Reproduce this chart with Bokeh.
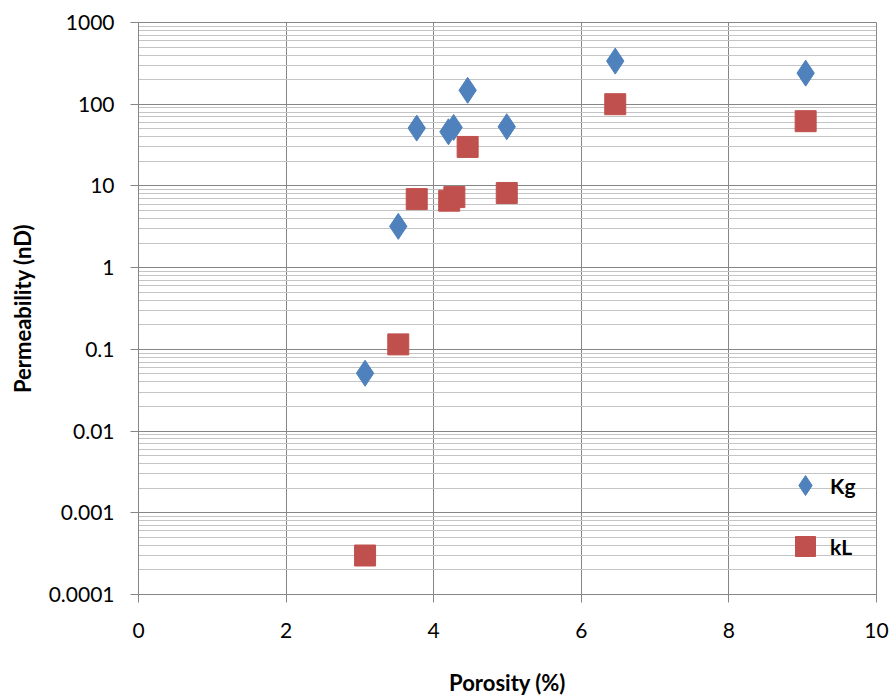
from bokeh.plotting import figure
from bokeh.models import Range1d, FixedTicker, Legend, LegendItem
from bokeh.embed import file_html
from bokeh.resources import INLINE

# ---- data ----
porosity_kg = [3.07, 3.52, 3.77, 4.20, 4.27, 4.46, 4.99, 6.46, 9.04]
perm_kg = [0.051, 3.2, 51, 46, 52, 148, 53, 337, 240]

porosity_kl = [3.07, 3.52, 3.77, 4.21, 4.28, 4.46, 4.99, 6.46, 9.04]
perm_kl = [0.0003, 0.115, 6.9, 6.6, 7.3, 30, 8.2, 100, 62]

x_ticks = [0, 2, 4, 6, 8, 10]
y_ticks = [0.0001, 0.001, 0.01, 0.1, 1, 10, 100, 1000]
y_tick_labels = ["0.0001", "0.001", "0.01", "0.1", "1", "10", "100", "1000"]
y_minor = [m * t for t in y_ticks[:-1] for m in range(2, 10)]

series_names = ["Kg", "kL"]

MAJOR = "#868686"
MINOR = "#C4C4C4"
FONT = "Lato"

p = figure(width=896, height=698, y_axis_type="log",
           x_range=Range1d(0, 10), y_range=Range1d(0.0001, 1000),
           output_backend="svg", toolbar_location=None,
           min_border_left=138, min_border_right=20,
           min_border_top=22, min_border_bottom=103,
           background_fill_color="white", border_fill_color="white")
p.outline_line_color = MAJOR

r_kg = p.scatter(porosity_kg, perm_kg, marker="diamond", size=26,
                 fill_color="#4F81BD", line_color="#4F81BD")
r_kl = p.scatter(porosity_kl, perm_kl, marker="square", size=21,
                 fill_color="#C0504D", line_color="#C0504D")

# axes
p.xaxis.ticker = FixedTicker(ticks=x_ticks)
p.yaxis.ticker = FixedTicker(ticks=y_ticks, minor_ticks=y_minor)
p.yaxis.major_label_overrides = {t: s for t, s in zip(y_ticks, y_tick_labels)}

for ax in (p.xaxis[0], p.yaxis[0]):
    ax.axis_line_color = MAJOR
    ax.major_tick_line_color = MAJOR
    ax.major_tick_out = 8
    ax.major_tick_in = 0
    ax.minor_tick_line_color = None
    ax.major_label_text_font = FONT
    ax.major_label_text_font_size = "21px"
    ax.major_label_text_color = "black"
    ax.axis_label_text_font = FONT
    ax.axis_label_text_font_style = "bold"
    ax.axis_label_text_font_size = "22px"
    ax.axis_label_text_color = "black"

p.xaxis.axis_label = "Porosity (%)"
p.yaxis.axis_label = "Permeability (nD)"
p.xaxis.major_label_standoff = 20
p.xaxis.axis_label_standoff = 28
p.yaxis.major_label_standoff = 16
p.yaxis.axis_label_standoff = 10

# grids
p.xgrid.grid_line_color = MAJOR
p.ygrid.grid_line_color = MAJOR
p.ygrid.minor_grid_line_color = MINOR

# legend
legend = Legend(items=[LegendItem(label=series_names[0], renderers=[r_kg]),
                       LegendItem(label=series_names[1], renderers=[r_kl])],
                location=(642, 23), orientation="vertical",
                glyph_width=50, glyph_height=50, spacing=11,
                label_standoff=0, padding=0, margin=0,
                border_line_color=None, background_fill_alpha=0,
                label_text_font=FONT, label_text_font_style="bold",
                label_text_font_size="21px", label_text_color="black")
p.add_layout(legend, "center")

open("out.html", "w").write(file_html(p, INLINE))
